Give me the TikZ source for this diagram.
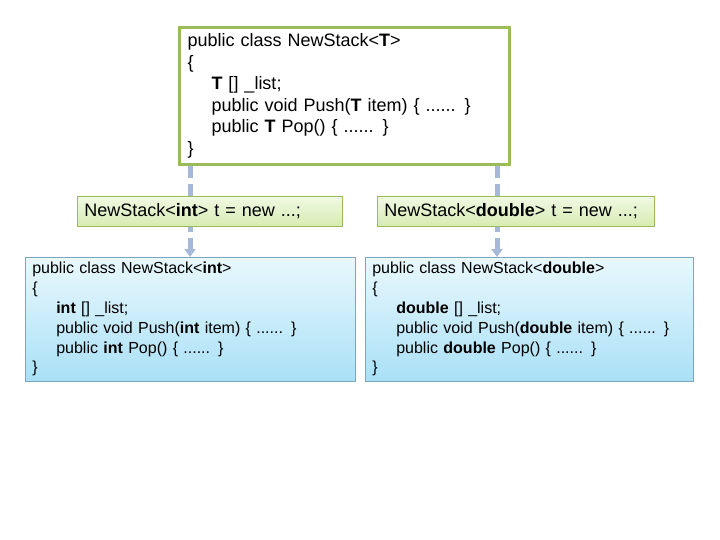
\documentclass[tikz,border=0pt]{standalone}
\usepackage{fontspec}
\setmainfont{Liberation Sans}
\usepackage{xcolor}
\usetikzlibrary{arrows.meta,positioning,backgrounds}
\definecolor{leafgreen}{HTML}{9BBB59}
\definecolor{limetop}{HTML}{F1F9E4}
\definecolor{limebot}{HTML}{D6ECB2}
\definecolor{skytop}{HTML}{E9F8FD}
\definecolor{skybot}{HTML}{A9E0F6}
\definecolor{skyline}{HTML}{7FA6BC}
\definecolor{linkblue}{HTML}{A7B9D8}

\tikzset{
  codebox/.style={draw=leafgreen,line width=3pt,fill=white,anchor=north west,
    align=left,inner xsep=7pt,inner ysep=2pt},
  usebox/.style={draw=leafgreen,line width=0.6pt,top color=limetop,bottom color=limebot,
    anchor=north west,align=left,inner xsep=7pt,inner ysep=0pt},
  madebox/.style={draw=skyline,line width=0.6pt,top color=skytop,bottom color=skybot,
    anchor=north west,align=left,inner xsep=7pt,inner ysep=1pt,
    font=\fontsize{16}{19.8}\selectfont},
  link/.style={draw=linkblue,line width=5pt,dash pattern=on 12pt off 6pt,
    -{Triangle[width=11pt,length=8pt]}}
}
\newcommand{\ind}{\hspace*{24pt}}

\begin{document}
\begin{tikzpicture}[x=1pt,y=-1pt,font=\fontsize{18}{21.5}\selectfont]
  \useasboundingbox (0,0) rectangle (720,540);
  % generic class
  \node[codebox,minimum width=330,minimum height=137,text width=314] (generic) at (178,26)
    {public class NewStack<\textbf{T}>\\
     \{\\
     \ind\textbf{T} [] \_list;\\
     \ind public void Push(\textbf{T} item) \{ ...... \}\\
     \ind public \textbf{T} Pop() \{ ...... \}\\
     \}};
  % usages
  \node[usebox,minimum width=265,minimum height=30,text width=251] (useInt) at (77,196)
    {NewStack<\textbf{int}> t = new ...;};
  \node[usebox,minimum width=277,minimum height=30,text width=263] (useDouble) at (377,196)
    {NewStack<\textbf{double}> t = new ...;};
  % constructed classes
  \node[madebox,minimum width=330,minimum height=124,text width=316] (madeInt) at (25,257)
    {public class NewStack<\textbf{int}>\\
     \{\\
     \ind\textbf{int} [] \_list;\\
     \ind public void Push(\textbf{int} item) \{ ...... \}\\
     \ind public \textbf{int} Pop() \{ ...... \}\\
     \}};
  \node[madebox,minimum width=328,minimum height=124,text width=314] (madeDouble) at (365,257)
    {public class NewStack<\textbf{double}>\\
     \{\\
     \ind\textbf{double} [] \_list;\\
     \ind public void Push(\textbf{double} item) \{ ...... \}\\
     \ind public \textbf{double} Pop() \{ ...... \}\\
     \}};
  % connectors
  \coordinate (fromInt) at ([xshift=12]generic.south west);
  \coordinate (fromDouble) at ([xshift=-14]generic.south east);
  \begin{scope}[on background layer]
    \draw[link] (fromInt) -- (fromInt |- madeInt.north);
    \draw[link] (fromDouble) -- (fromDouble |- madeDouble.north);
  \end{scope}
\end{tikzpicture}
\end{document}
